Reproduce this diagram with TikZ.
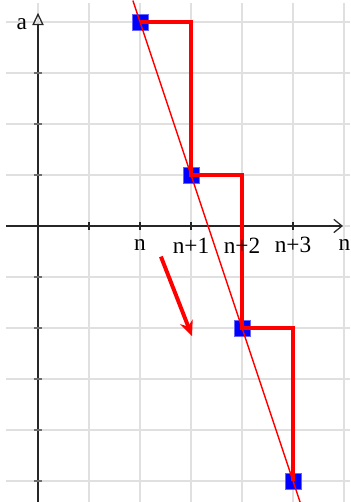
\documentclass[tikz,border=0pt]{standalone}
\usepackage{fontspec}
\setmainfont{Liberation Serif}
\usetikzlibrary{positioning,arrows.meta}
\definecolor{GridGray}{RGB}{224,224,224}
\definecolor{TickGray}{RGB}{110,110,110}
\definecolor{PtBlue}{RGB}{0,0,255}
\definecolor{StairRed}{RGB}{255,0,0}

\begin{document}
\begin{tikzpicture}[
    gridline/.style={GridGray,line width=0.8pt},
    axis/.style={line width=0.7pt,black!85},
    sqpt/.style={rectangle,fill=PtBlue,draw=PtBlue!60,line width=0.4pt,minimum size=0.31cm,inner sep=0pt},
    stair/.style={StairRed,line width=2.2pt},
    fitline/.style={StairRed,line width=0.8pt},
    lbl/.style={font=\fontsize{13}{15}\selectfont,inner sep=1pt}
]
\useasboundingbox (-0.745,-5.412) rectangle (6.118,4.431);

% Grid
\draw[gridline] (-0.627,-5.412) grid (6.118,4.37);

% Axes
\coordinate (xstart) at (-0.627,0);
\coordinate (xend) at (5.98,0);
\coordinate (ystart) at (0,-5.412);
\coordinate (yend) at (0,4.18);
\draw[axis,-{Straight Barb[length=1.6mm,width=2.6mm]}] (xstart) -- (xend);
\draw[axis,-{Triangle[open,length=2.4mm,width=2.2mm]}] (ystart) -- (yend);
\foreach \i in {1,...,5} \draw[axis] (\i,-0.07) -- (\i,0.07);
\foreach \j in {-5,...,-1,1,2,3} \draw[TickGray,line width=0.8pt] (-0.08,\j) -- (0.08,\j);

% Points
\node[sqpt] (p0) at (2,4) {};
\node[sqpt] (p1) at (3,1) {};
\node[sqpt] (p2) at (4,-2) {};
\node[sqpt] (p3) at (5,-5) {};

% Line through the points
\coordinate (linetop) at (1.86,4.42);
\coordinate (linebot) at (5.14,-5.42);
\draw[fitline] (linetop) -- (linebot);

% Staircase
\draw[stair] (p0.center) -| (p1.center) -| (p2.center) -| (p3.center);

% Direction arrow
\coordinate (arrstart) at (2.41,-0.6);
\coordinate (arrend) at (3.02,-2.16);
\draw[stair,-{Stealth[length=3mm,width=2.6mm]}] (arrstart) -- (arrend);

% Labels
\node[lbl] (alabel) at (-0.32,3.95) {a};
\node[lbl] (l0) at (2,-0.38) {n};
\node[lbl] (l1) at (3,-0.38) {n+1};
\node[lbl] (l2) at (4,-0.38) {n+2};
\node[lbl] (l3) at (5,-0.38) {n+3};
\node[lbl] (nlabel) at (6.01,-0.38) {n};

\end{tikzpicture}
\end{document}
